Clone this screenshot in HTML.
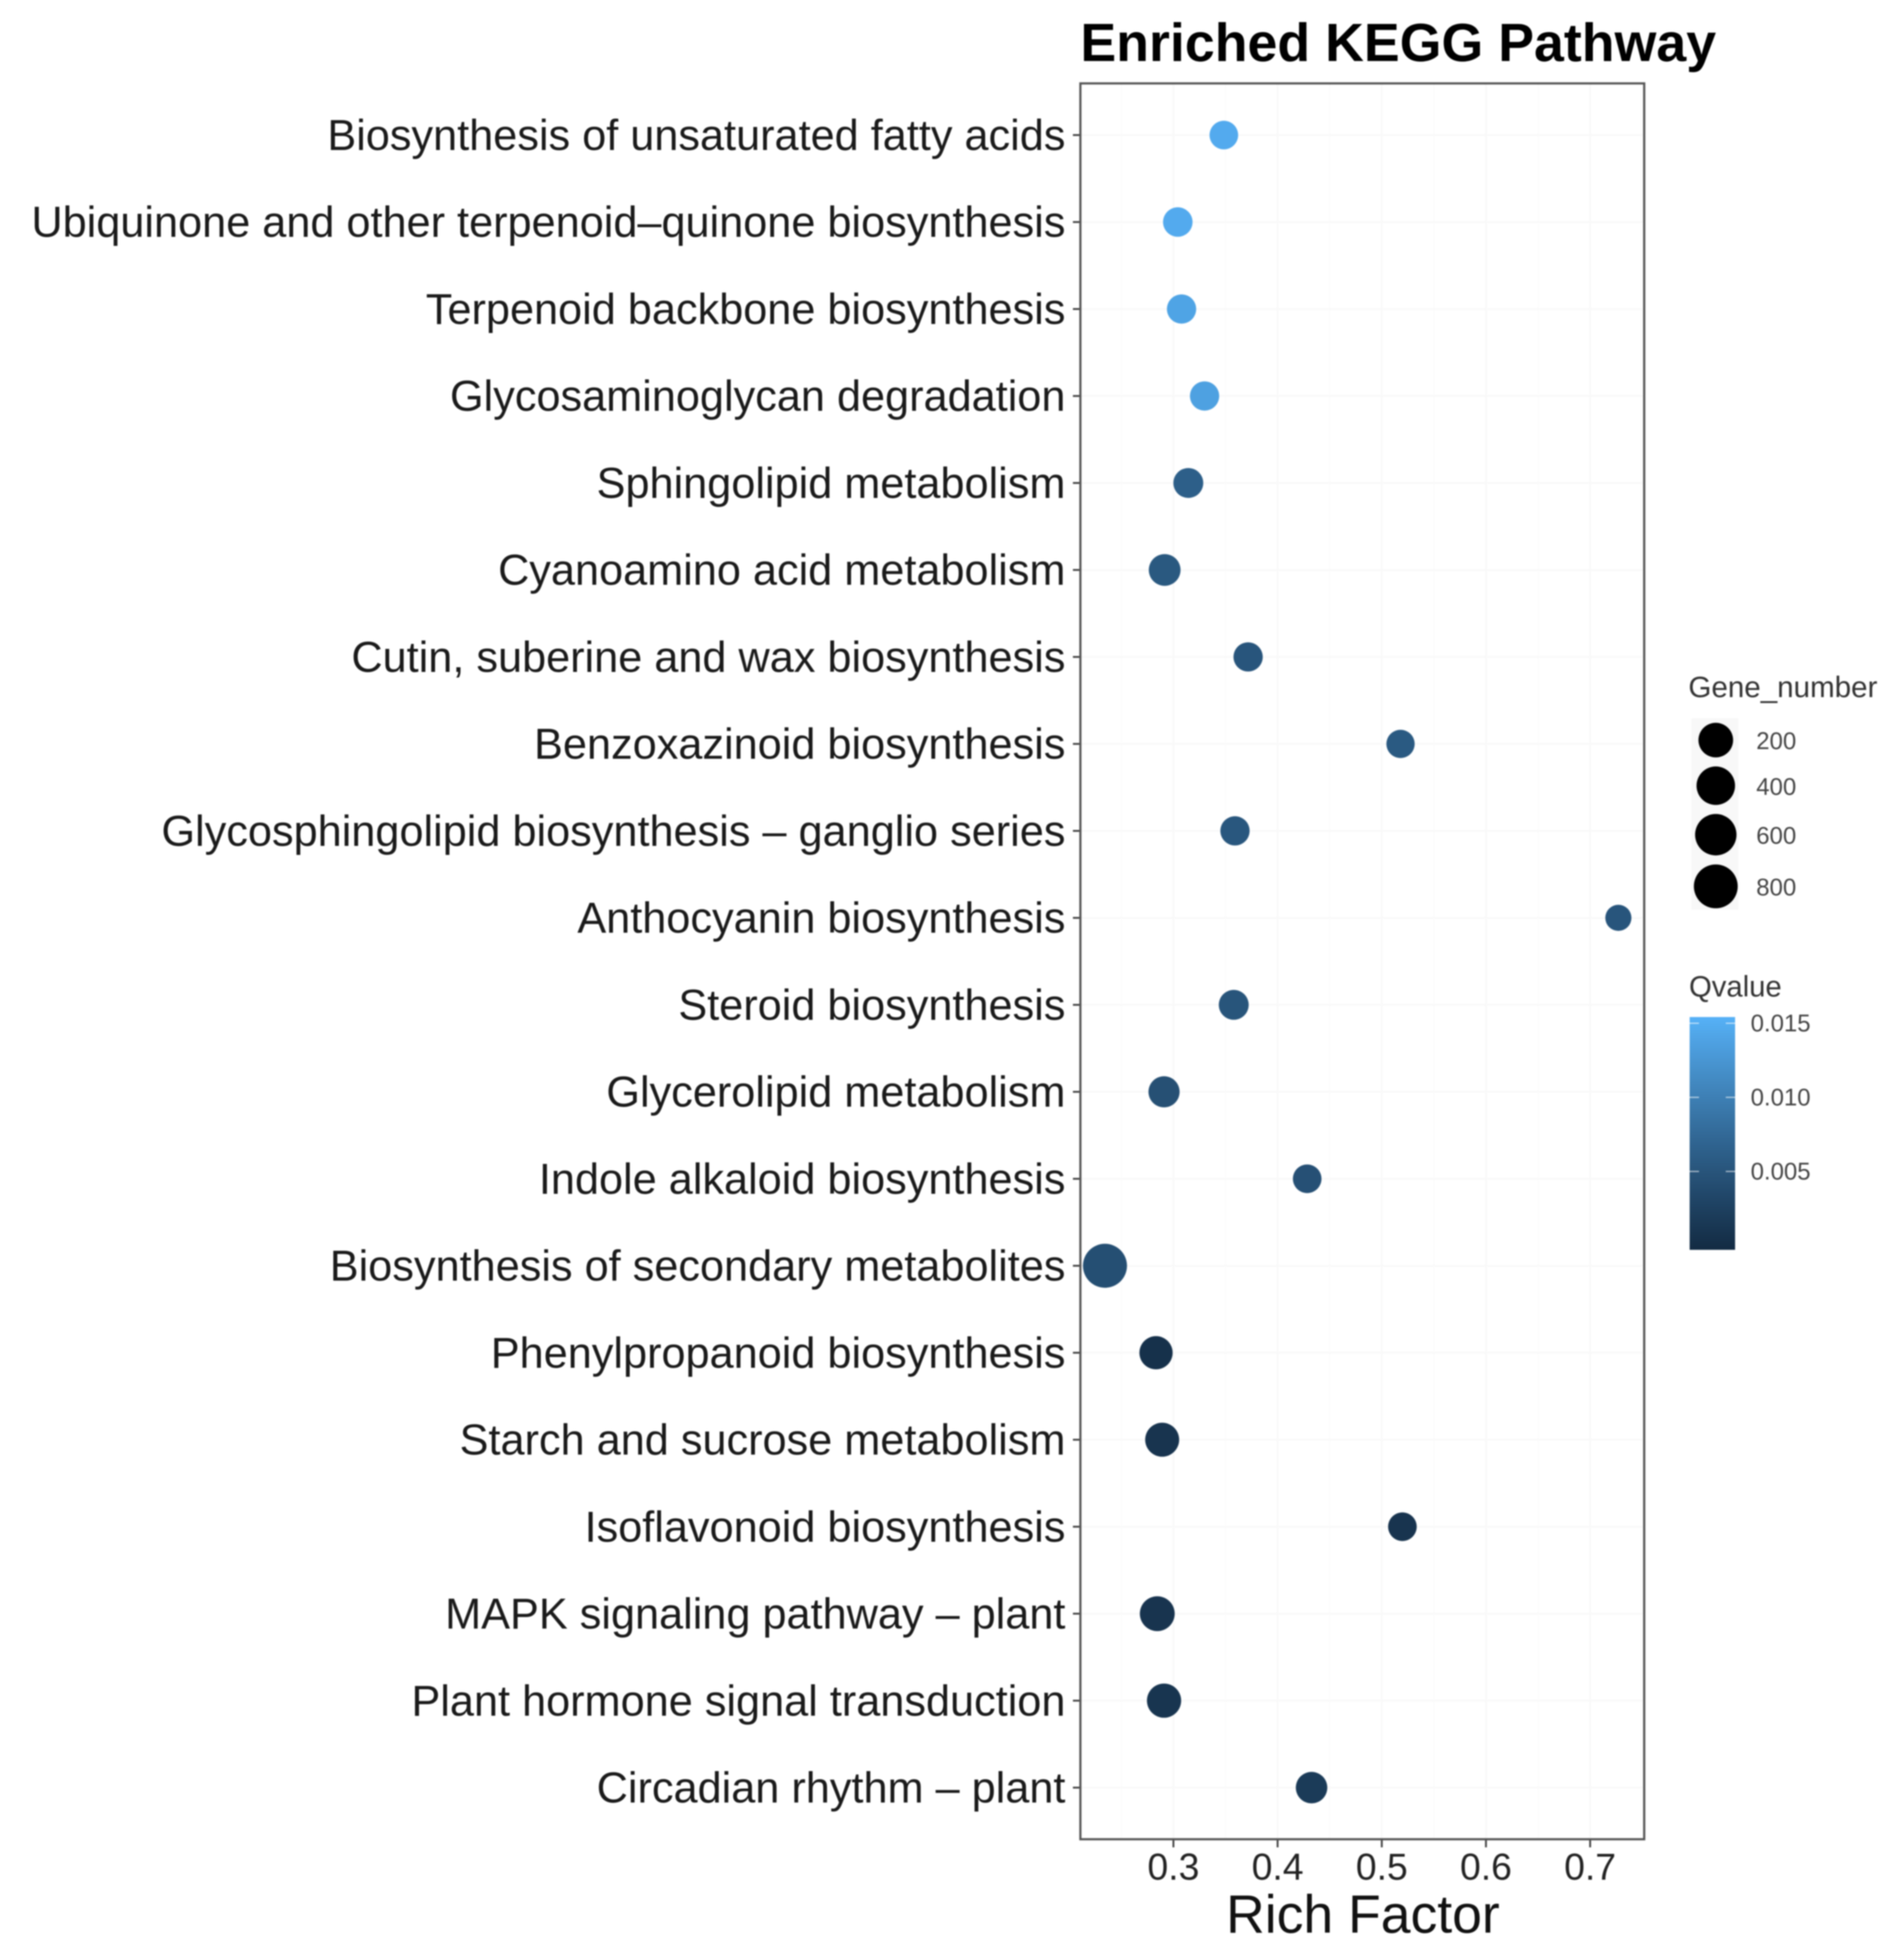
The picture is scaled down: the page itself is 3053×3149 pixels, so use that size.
<!DOCTYPE html>
<html lang="en">
<head>
<meta charset="utf-8">
<title>Enriched KEGG Pathway</title>
<style>
  html, body { margin: 0; padding: 0; background: #fff; }
  svg { display: block; filter: blur(1px); }
  text { font-family: "Liberation Sans", sans-serif; }
</style>
</head>
<body>
<svg id="chart" xmlns="http://www.w3.org/2000/svg" width="3053" height="3149" viewBox="0 0 3053 3149">
  <rect x="0" y="0" width="3053" height="3149" fill="#ffffff"/>
  <text x="1736" y="98" font-size="86.3" font-weight="700" fill="#000000">Enriched KEGG Pathway</text>
  <text x="2190" y="3105" font-size="86" text-anchor="middle" fill="#111111">Rich Factor</text>
  <text x="2713" y="1120" font-size="47.5" fill="#333333">Gene_number</text>
  <text x="2714" y="1601" font-size="47" fill="#333333">Qvalue</text>
  <defs>
    <linearGradient id="qGradient" x1="0" y1="1" x2="0" y2="0"></linearGradient>
  </defs>
  <g id="grid"></g>
  <g id="axes"></g>
  <g id="points"></g>
  <g id="sizeLegend"></g>
  <g id="colorLegend"></g>
</svg>
<script>
const categories = [
  "Biosynthesis of unsaturated fatty acids",
  "Ubiquinone and other terpenoid\u2013quinone biosynthesis",
  "Terpenoid backbone biosynthesis",
  "Glycosaminoglycan degradation",
  "Sphingolipid metabolism",
  "Cyanoamino acid metabolism",
  "Cutin, suberine and wax biosynthesis",
  "Benzoxazinoid biosynthesis",
  "Glycosphingolipid biosynthesis \u2013 ganglio series",
  "Anthocyanin biosynthesis",
  "Steroid biosynthesis",
  "Glycerolipid metabolism",
  "Indole alkaloid biosynthesis",
  "Biosynthesis of secondary metabolites",
  "Phenylpropanoid biosynthesis",
  "Starch and sucrose metabolism",
  "Isoflavonoid biosynthesis",
  "MAPK signaling pathway \u2013 plant",
  "Plant hormone signal transduction",
  "Circadian rhythm \u2013 plant"
];
const richFactor = [0.3484, 0.3042, 0.3078, 0.3299, 0.3143, 0.2916, 0.3717, 0.518, 0.3591, 0.7271, 0.3579, 0.291, 0.4284, 0.2343, 0.2833, 0.2892, 0.5198, 0.2845, 0.291, 0.4326];
const geneNumber = [35, 48, 44, 44, 55, 98, 44, 31, 44, 20, 55, 82, 35, 815, 145, 173, 35, 209, 182, 91];
const qValue = [0.0147, 0.0147, 0.014, 0.0137, 0.0063, 0.0055, 0.0051, 0.0056, 0.0053, 0.0051, 0.005, 0.0044, 0.0045, 0.0043, 0.0005, 0.0009, 0.0009, 0.0009, 0.001, 0.0018];
const xTicks = [0.3, 0.4, 0.5, 0.6, 0.7];
const xTickLabels = ["0.3", "0.4", "0.5", "0.6", "0.7"];
const xMinorBreaks = [0.25, 0.35, 0.45, 0.55, 0.65, 0.75];
const sizeBreaks = [200, 400, 600, 800];
const sizeBreakLabels = ["200", "400", "600", "800"];
const qBreaks = [0.015, 0.01, 0.005];
const qBreakLabels = ["0.015", "0.010", "0.005"];

const SVG_NS = "http://www.w3.org/2000/svg";
const panel = { left: 1736, right: 2642, top: 134, bottom: 2955 };
const colorbar = { left: 2715, right: 2788, top: 1634, bottom: 2008 };
const Q_MIN = -0.00029;
const Q_MAX = 0.01542;

function xScale(v) { return 1885.5 + (v - 0.3) * 1674; }
function yScale(i) { return 217 + i * 139.74; }
function radiusScale(g) { return 21 + 14.5 * Math.sqrt(Math.max(0, g - 20) / 810); }
function qBarScale(q) { return colorbar.bottom - (q - Q_MIN) / (Q_MAX - Q_MIN) * (colorbar.bottom - colorbar.top); }

function srgbToLab(c) {
  const lin = c.map(function (u) { u /= 255; return u <= 0.04045 ? u / 12.92 : Math.pow((u + 0.055) / 1.055, 2.4); });
  const X = (0.4124 * lin[0] + 0.3576 * lin[1] + 0.1805 * lin[2]) / 0.95047;
  const Y = 0.2126 * lin[0] + 0.7152 * lin[1] + 0.0722 * lin[2];
  const Z = (0.0193 * lin[0] + 0.1192 * lin[1] + 0.9505 * lin[2]) / 1.08883;
  const f = function (t) { return t > 0.008856 ? Math.cbrt(t) : 7.787 * t + 16 / 116; };
  return [116 * f(Y) - 16, 500 * (f(X) - f(Y)), 200 * (f(Y) - f(Z))];
}
function labToHex(l) {
  const fy = (l[0] + 16) / 116, fx = fy + l[1] / 500, fz = fy - l[2] / 200;
  const g = function (t) { return t * t * t > 0.008856 ? t * t * t : (t - 16 / 116) / 7.787; };
  const X = g(fx) * 0.95047, Y = g(fy), Z = g(fz) * 1.08883;
  const rgb = [
    3.2406 * X - 1.5372 * Y - 0.4986 * Z,
    -0.9689 * X + 1.8758 * Y + 0.0415 * Z,
    0.0557 * X - 0.204 * Y + 1.057 * Z
  ];
  return "#" + rgb.map(function (u) {
    u = Math.min(1, Math.max(0, u));
    u = u <= 0.0031308 ? 12.92 * u : 1.055 * Math.pow(u, 1 / 2.4) - 0.055;
    return Math.round(u * 255).toString(16).padStart(2, "0");
  }).join("");
}
const labLow = srgbToLab([0x13, 0x2b, 0x43]);
const labHigh = srgbToLab([0x56, 0xb1, 0xf7]);
function colorScale(q) {
  const t = Math.min(1, Math.max(0, (q - Q_MIN) / (Q_MAX - Q_MIN)));
  return labToHex(labLow.map(function (a, k) { return a + (labHigh[k] - a) * t; }));
}

function make(tag, attrs, parent, content) {
  const el = document.createElementNS(SVG_NS, tag);
  Object.keys(attrs).forEach(function (k) { el.setAttribute(k, attrs[k]); });
  if (content !== undefined) { el.textContent = content; }
  parent.appendChild(el);
  return el;
}

const grid = document.getElementById("grid");
const axes = document.getElementById("axes");
const points = document.getElementById("points");
const sizeLegend = document.getElementById("sizeLegend");
const colorLegend = document.getElementById("colorLegend");

make("rect", { x: panel.left, y: panel.top, width: panel.right - panel.left, height: panel.bottom - panel.top, fill: "#ffffff" }, grid);

xMinorBreaks.forEach(function (v) {
  if (xScale(v) < panel.left || xScale(v) > panel.right) { return; }
  const el = make("line", { x1: xScale(v), x2: xScale(v), y1: panel.top, y2: panel.bottom, stroke: "#fcfcfc", "stroke-width": 2 }, grid);
  
  
});
xTicks.forEach(function (v) {
  const el = make("line", { x1: xScale(v), x2: xScale(v), y1: panel.top, y2: panel.bottom, stroke: "#f9f9f9", "stroke-width": 3 }, grid);
  
  
});
categories.forEach(function (c, i) {
  const el = make("line", { x1: panel.left, x2: panel.right, y1: yScale(i), y2: yScale(i), stroke: "#f9f9f9", "stroke-width": 3 }, grid);
  
  
});

categories.forEach(function (c, i) {
  const tick = make("line", { x1: 1724, x2: panel.left, y1: yScale(i), y2: yScale(i), stroke: "#444444", "stroke-width": 3 }, axes);
  
  
  const label = make("text", { x: 1712, y: yScale(i) + 24, "font-size": 69.5, "text-anchor": "end", fill: "#1a1a1a" }, axes, c);
  
  
});
xTicks.forEach(function (v, i) {
  const tick = make("line", { x1: xScale(v), x2: xScale(v), y1: panel.bottom, y2: 2968, stroke: "#444444", "stroke-width": 3 }, axes);
  
  
  const label = make("text", { x: xScale(v), y: 3020, "font-size": 60, "text-anchor": "middle", fill: "#222222" }, axes, xTickLabels[i]);
  
  
});

categories.forEach(function (c, i) {
  const dot = make("circle", { cx: xScale(richFactor[i]), cy: yScale(i), r: radiusScale(geneNumber[i]), fill: colorScale(qValue[i]) }, points);
  
  
});

const border = make("rect", { x: panel.left, y: panel.top, width: panel.right - panel.left, height: panel.bottom - panel.top, fill: "none", stroke: "#555555", "stroke-width": 3.5 }, axes);



let keyTop = 1154;
const keyHeights = sizeBreaks.map(function (g) { return 2 * radiusScale(g) + 14.5; });
const keyBackground = make("rect", { x: 2718, y: keyTop, width: 75, height: keyHeights.reduce(function (a, b) { return a + b; }, 0) - 5, fill: "#f8f8f8" }, sizeLegend);


sizeBreaks.forEach(function (g, i) {
  const cy = keyTop + keyHeights[i] / 2;
  const dot = make("circle", { cx: 2757, cy: cy, r: radiusScale(g), fill: "#000000" }, sizeLegend);
  
  
  const label = make("text", { x: 2822, y: cy + 14.5, "font-size": 38.5, fill: "#444444" }, sizeLegend, sizeBreakLabels[i]);
  
  
  keyTop += keyHeights[i];
});

const gradient = document.getElementById("qGradient");
for (let s = 0; s <= 20; s++) {
  make("stop", { offset: s / 20, "stop-color": colorScale(Q_MIN + (Q_MAX - Q_MIN) * s / 20) }, gradient);
}
const bar = make("rect", { x: colorbar.left, y: colorbar.top, width: colorbar.right - colorbar.left, height: colorbar.bottom - colorbar.top, fill: "url(#qGradient)" }, colorLegend);


qBreaks.forEach(function (q, i) {
  const y = qBarScale(q);
  const tickLeft = make("line", { x1: colorbar.left, x2: colorbar.left + 15, y1: y, y2: y, stroke: "#ffffff", "stroke-opacity": 0.6, "stroke-width": 2 }, colorLegend);
  
  
  const tickRight = make("line", { x1: colorbar.right - 15, x2: colorbar.right, y1: y, y2: y, stroke: "#ffffff", "stroke-opacity": 0.6, "stroke-width": 2 }, colorLegend);
  
  
  const label = make("text", { x: 2813, y: y + 13, "font-size": 38.5, fill: "#444444" }, colorLegend, qBreakLabels[i]);
  
  
});
</script>
</body>
</html>
